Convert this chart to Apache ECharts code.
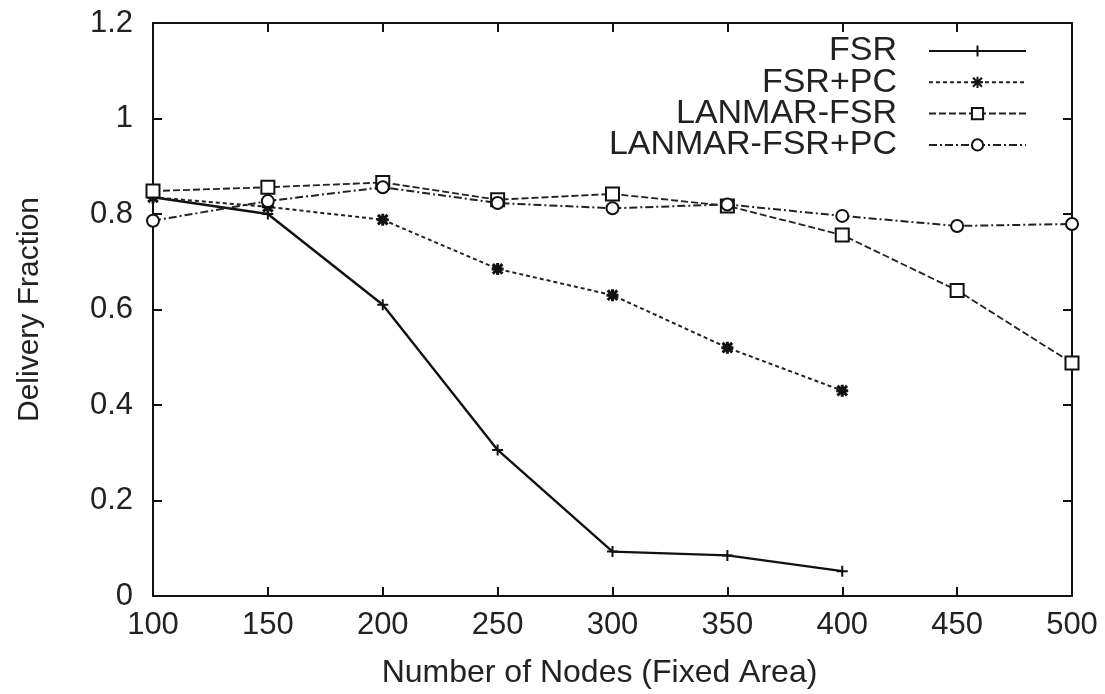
<!DOCTYPE html>
<html>
<head>
<meta charset="utf-8">
<script src="https://cdn.jsdelivr.net/npm/echarts@6/dist/echarts.min.js"></script>
<style>
  html, body { margin: 0; padding: 0; background: #fff; }
  #chart { width: 1105px; height: 694px; }
</style>
</head>
<body>
<div id="chart"></div>
<script>
// x categories (number of nodes)
var nodes = [100, 150, 200, 250, 300, 350, 400, 450, 500];
var fsr = [0.835, 0.800, 0.610, 0.306, 0.093, 0.085, 0.052];
var fsrPc = [0.835, 0.815, 0.788, 0.685, 0.630, 0.520, 0.430];
var lanmarFsr = [0.848, 0.856, 0.866, 0.830, 0.842, 0.817, 0.756, 0.640, 0.488];
var lanmarFsrPc = [0.786, 0.827, 0.856, 0.823, 0.812, 0.820, 0.796, 0.775, 0.779];
var seriesNames = ['FSR', 'FSR+PC', 'LANMAR-FSR', 'LANMAR-FSR+PC'];

function pairs(vals) {
  return vals.map(function (v, i) { return [nodes[i], v]; });
}

var fontFam = '"Liberation Sans", Arial, sans-serif';
var ink = '#222';
var frame = { color: '#111', width: 2 };

var chart = echarts.init(document.getElementById('chart'));

// one legend per entry so text sits right-aligned with the sample line on its right
var legends = seriesNames.map(function (n, i) {
  return {
    data: [n],
    right: 73,
    top: 29 + i * 31.3,
    align: 'right',
    itemWidth: 97,
    itemHeight: 14,
    textStyle: { fontFamily: fontFam, fontSize: 34, color: ink, padding: [0, 27, 0, 0] },
    inactiveColor: ink
  };
});

var plusPath = 'path://M0,5 L10,5 M5,0 L5,10';
var starPath = 'path://M1,1 L9,9 M9,1 L1,9 M5,0 L5,10 M0,5 L10,5';

chart.setOption({
  animation: false,
  backgroundColor: '#fff',
  grid: { left: 153, right: 33, top: 23, bottom: 95 },
  legend: legends,
  xAxis: [{
    type: 'value', min: 100, max: 500, interval: 50,
    name: 'Number of Nodes (Fixed Area)', nameLocation: 'middle', nameGap: 61,
    nameTextStyle: { fontFamily: fontFam, fontSize: 32, color: ink, padding: [0, 26, 0, 0] },
    axisLine: { show: true, onZero: false, lineStyle: frame },
    axisTick: { inside: true, length: 9, lineStyle: frame },
    axisLabel: { fontFamily: fontFam, fontSize: 31, color: ink, margin: 14 },
    splitLine: { show: false }
  }, {
    // mirror axis on top: frame + ticks only
    type: 'value', min: 100, max: 500, interval: 50, position: 'top',
    axisLine: { show: true, onZero: false, lineStyle: frame },
    axisTick: { show: true, inside: true, length: 9, lineStyle: frame },
    axisLabel: { show: false },
    splitLine: { show: false }
  }],
  yAxis: [{
    type: 'value', min: 0, max: 1.2, interval: 0.2,
    name: 'Delivery Fraction', nameLocation: 'middle', nameGap: 108,
    nameTextStyle: { fontFamily: fontFam, fontSize: 30, color: ink },
    axisLine: { show: true, onZero: false, lineStyle: frame },
    axisTick: { show: true, inside: true, length: 9, lineStyle: frame },
    axisLabel: { fontFamily: fontFam, fontSize: 31, color: ink, margin: 20,
      formatter: function (v) { return String(Math.round(v * 10) / 10); } },
    splitLine: { show: false }
  }, {
    type: 'value', min: 0, max: 1.2, interval: 0.2, position: 'right',
    axisLine: { show: true, onZero: false, lineStyle: frame },
    axisTick: { show: true, inside: true, length: 9, lineStyle: frame },
    axisLabel: { show: false },
    splitLine: { show: false }
  }],
  series: [{
    name: 'FSR', type: 'line', data: pairs(fsr),
    symbol: plusPath, symbolSize: 11,
    lineStyle: { color: '#111', width: 2.4, type: 'solid' },
    itemStyle: { color: 'none', borderColor: '#111', borderWidth: 2 }
  }, {
    name: 'FSR+PC', type: 'line', data: pairs(fsrPc),
    symbol: starPath, symbolSize: 12,
    lineStyle: { color: '#222', width: 2, type: [4, 3] },
    itemStyle: { color: 'none', borderColor: '#111', borderWidth: 3 }
  }, {
    name: 'LANMAR-FSR', type: 'line', data: pairs(lanmarFsr),
    symbol: 'rect', symbolSize: 13,
    lineStyle: { color: '#222', width: 1.8, type: [7, 3] },
    itemStyle: { color: '#fff', borderColor: '#111', borderWidth: 2 }
  }, {
    name: 'LANMAR-FSR+PC', type: 'line', data: pairs(lanmarFsrPc),
    symbol: 'circle', symbolSize: 12,
    lineStyle: { color: '#222', width: 2, type: [8, 3, 2, 3] },
    itemStyle: { color: '#fff', borderColor: '#111', borderWidth: 2 }
  }]
});
</script>
</body>
</html>
